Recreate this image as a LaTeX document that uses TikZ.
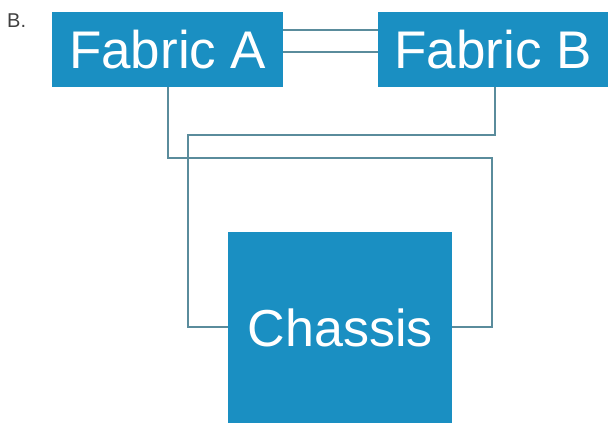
\documentclass[tikz,border=0pt]{standalone}
\usepackage{fontspec}
\setmainfont{Liberation Sans}
\definecolor{boxblue}{HTML}{1A8FC2}
\definecolor{wire}{HTML}{5A8C9C}
\begin{document}
\begin{tikzpicture}[x=1pt,y=-1pt,
  blk/.style={fill=boxblue,draw=none,text=white,inner sep=0pt,anchor=north west},
  link/.style={draw=wire,line width=1.3pt}]
\useasboundingbox (0,0) rectangle (608,423);
\node[anchor=north west,inner sep=0pt,font=\fontsize{20}{22}\selectfont,text=black!75] (lbl) at (7,14) {B.};
\node[blk,minimum width=231pt,minimum height=75pt,font=\fontsize{53}{60}\selectfont] (fa) at (52,12) {\raisebox{-1pt}{Fabric A}};
\node[blk,minimum width=230pt,minimum height=75pt,font=\fontsize{53}{60}\selectfont] (fb) at (378,12) {\raisebox{-1pt}{Fabric B}};
\node[blk,minimum width=224pt,minimum height=191pt,font=\fontsize{52}{60}\selectfont] (ch) at (228,232) {\raisebox{-10pt}{Chassis}};
\draw[link] (fa.east |- 0,30) -- (fb.west |- 0,30);
\draw[link] (fa.east |- 0,52) -- (fb.west |- 0,52);
\draw[link] (fa.south -| 168,0) -- (168,158) -- (492,158) -- (492,327) -- (ch.east |- 0,327);
\draw[link] (fb.south -| 495,0) -- (495,135) -- (188,135) -- (188,327) -- (ch.west |- 0,327);
\end{tikzpicture}
\end{document}
